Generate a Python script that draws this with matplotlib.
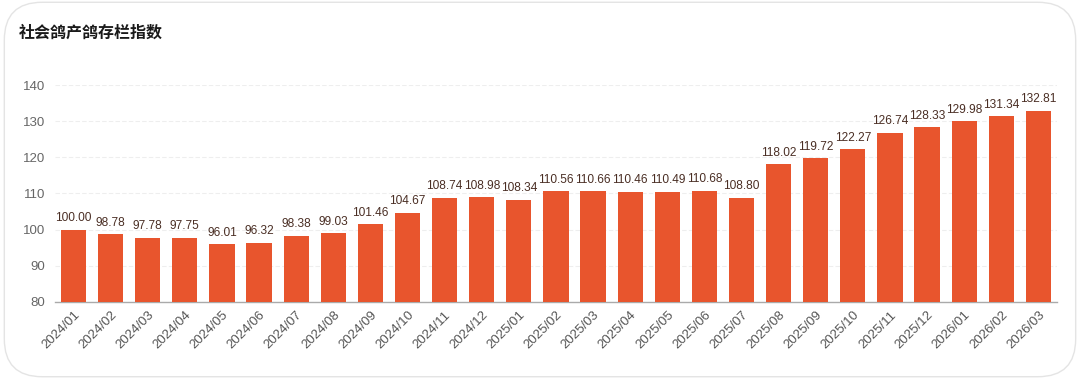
import matplotlib
matplotlib.use("Agg")
import matplotlib.pyplot as plt
from matplotlib.patches import FancyBboxPatch

plt.rcParams['font.family'] = ['Noto Sans CJK SC', 'DejaVu Sans']

months = ["2024/01", "2024/02", "2024/03", "2024/04", "2024/05", "2024/06", "2024/07",
          "2024/08", "2024/09", "2024/10", "2024/11", "2024/12", "2025/01", "2025/02",
          "2025/03", "2025/04", "2025/05", "2025/06", "2025/07", "2025/08", "2025/09",
          "2025/10", "2025/11", "2025/12", "2026/01", "2026/02", "2026/03"]
values = [100.00, 98.78, 97.78, 97.75, 96.01, 96.32, 98.38, 99.03, 101.46, 104.67,
          108.74, 108.98, 108.34, 110.56, 110.66, 110.46, 110.49, 110.68, 108.80,
          118.02, 119.72, 122.27, 126.74, 128.33, 129.98, 131.34, 132.81]
yticks = [80, 90, 100, 110, 120, 130, 140]
title = "社会鸽产鸽存栏指数"

num_font = "Liberation Sans"

fig = plt.figure(figsize=(10.8, 3.79), dpi=100, facecolor="white")
card = FancyBboxPatch((0.004, 0.006), 0.992, 0.988, boxstyle="round,pad=0,rounding_size=0.035",
                      transform=fig.transFigure, facecolor="white", edgecolor="#e4e4e4",
                      linewidth=1.0, mutation_aspect=1080/379, zorder=-10)
fig.patches.append(card)

ax = fig.add_axes([0.0509, 0.2032, 0.9278, 0.5725])
ax.set_zorder(5)
ax.set_facecolor("none")
x = list(range(len(months)))
ax.bar(x, values, width=0.68, color="#E8552D", zorder=3)
for xi, v in zip(x, values):
    ax.annotate(f"{v:.2f}", (xi, v), xytext=(0, 4), textcoords="offset points",
                ha="center", va="bottom", fontsize=8.6, color="#4a2e24",
                family=num_font, zorder=4)

ax.set_ylim(80, 140)
ax.set_xlim(-0.5, len(months) - 0.5)
ax.set_yticks(yticks)
ax.set_yticklabels([str(t) for t in yticks], fontsize=9.5, color="#666666", family=num_font)
ax.set_xticks(x)
ax.set_xticklabels(months, rotation=45, ha="right", rotation_mode="anchor",
                   fontsize=9.5, color="#555555", family=num_font)
ax.tick_params(axis="y", length=0, pad=7)
ax.tick_params(axis="x", length=0, pad=5)
ax.grid(axis="y", color="#eeeeee", linestyle=(0, (4, 2)), linewidth=0.8, zorder=0)
for s in ["top", "right", "left"]:
    ax.spines[s].set_visible(False)
ax.spines["bottom"].set_color("#aaaaaa")
ax.spines["bottom"].set_linewidth(1.0)

fig.text(0.017, 0.915, title, fontsize=11.5, fontweight="bold", color="#1a1a1a",
         ha="left", va="center")

fig.savefig("out.png", dpi=100)
